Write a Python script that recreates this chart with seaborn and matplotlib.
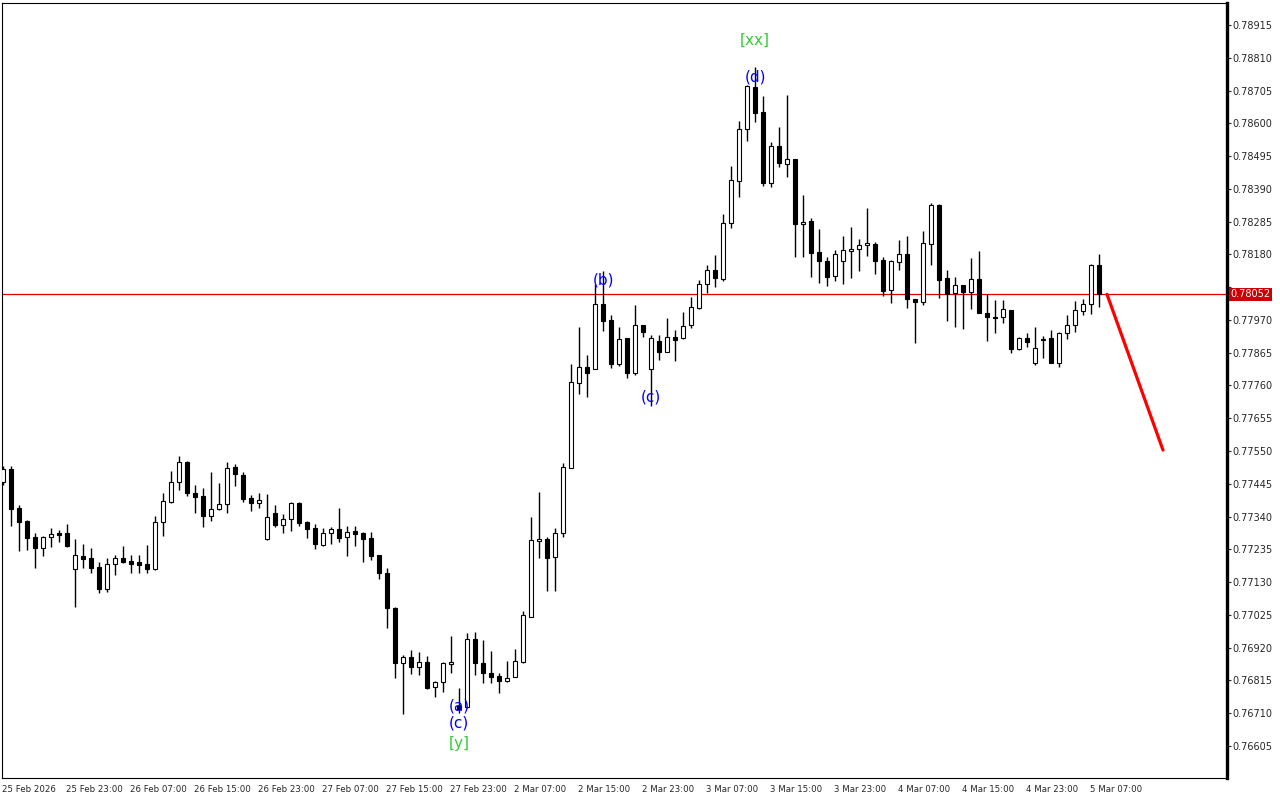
import numpy as np
import seaborn as sns
import matplotlib.pyplot as plt
from matplotlib.transforms import blended_transform_factory

# H1 candles, 25 Feb 15:00 -> 5 Mar 08:00 (138 bars)
opens = [
    0.77451, 0.77492, 0.77367, 0.77326, 0.77275, 0.77239, 0.77275, 0.77287, 0.77287, 0.77172,
    0.77214, 0.77207, 0.77178, 0.77108, 0.77188, 0.77207, 0.77198, 0.77194, 0.77188, 0.77172,
    0.77323, 0.77387, 0.77451, 0.77515, 0.77416, 0.77406, 0.77342, 0.77364, 0.77380, 0.77498,
    0.77473, 0.77400, 0.77383, 0.77268, 0.77351, 0.77313, 0.77332, 0.77383, 0.77323, 0.77303,
    0.77249, 0.77287, 0.77300, 0.77275, 0.77294, 0.77287, 0.77271, 0.77217, 0.77159, 0.77047,
    0.76871, 0.76890, 0.76858, 0.76874, 0.76794, 0.76810, 0.76868, 0.76733, 0.76730, 0.76948,
    0.76871, 0.76839, 0.76829, 0.76813, 0.76826, 0.76874, 0.77018, 0.77262, 0.77268, 0.77211,
    0.77287, 0.77495, 0.77768, 0.77819, 0.77813, 0.78021, 0.77970, 0.77829, 0.77912, 0.77800,
    0.77954, 0.77813, 0.77903, 0.77867, 0.77915, 0.77912, 0.77954, 0.78008, 0.78085, 0.78130,
    0.78101, 0.78281, 0.78415, 0.78582, 0.78716, 0.78636, 0.78409, 0.78527, 0.78470, 0.78486,
    0.78277, 0.78287, 0.78188, 0.78159, 0.78111, 0.78159, 0.78191, 0.78197, 0.78210, 0.78213,
    0.78162, 0.78066, 0.78156, 0.78181, 0.78037, 0.78028, 0.78213, 0.78338, 0.78104, 0.78056,
    0.78082, 0.78060, 0.78101, 0.77992, 0.77979, 0.77979, 0.78002, 0.77877, 0.77912, 0.77832,
    0.77906, 0.77912, 0.77832, 0.77928, 0.77954, 0.77999, 0.78021, 0.78146,
]
highs = [
    0.77502, 0.77502, 0.77377, 0.77329, 0.77287, 0.77278, 0.77303, 0.77297, 0.77316, 0.77268,
    0.77252, 0.77239, 0.77194, 0.77207, 0.77217, 0.77246, 0.77217, 0.77217, 0.77249, 0.77342,
    0.77416, 0.77486, 0.77534, 0.77518, 0.77441, 0.77432, 0.77483, 0.77448, 0.77515, 0.77508,
    0.77483, 0.77409, 0.77416, 0.77412, 0.77377, 0.77348, 0.77387, 0.77387, 0.77326, 0.77316,
    0.77303, 0.77307, 0.77367, 0.77310, 0.77310, 0.77291, 0.77291, 0.77217, 0.77175, 0.77050,
    0.76896, 0.76912, 0.76906, 0.76893, 0.76813, 0.76874, 0.76957, 0.76791, 0.76967, 0.76970,
    0.76945, 0.76909, 0.76839, 0.76877, 0.76916, 0.77037, 0.77339, 0.77419, 0.77275, 0.77303,
    0.77512, 0.77829, 0.77947, 0.77858, 0.78085, 0.78127, 0.77986, 0.77947, 0.77912, 0.78018,
    0.77954, 0.77922, 0.77922, 0.77976, 0.77938, 0.77995, 0.78044, 0.78098, 0.78146, 0.78178,
    0.78309, 0.78463, 0.78607, 0.78723, 0.78780, 0.78688, 0.78540, 0.78588, 0.78691, 0.78486,
    0.78370, 0.78297, 0.78261, 0.78172, 0.78194, 0.78239, 0.78268, 0.78229, 0.78329, 0.78220,
    0.78172, 0.78162, 0.78226, 0.78239, 0.78037, 0.78255, 0.78345, 0.78342, 0.78130, 0.78108,
    0.78082, 0.78168, 0.78191, 0.78052, 0.78034, 0.78034, 0.78002, 0.77915, 0.77928, 0.77947,
    0.77919, 0.77938, 0.77931, 0.77986, 0.78031, 0.78037, 0.78149, 0.78181,
]
lows = [
    0.77441, 0.77310, 0.77230, 0.77233, 0.77175, 0.77214, 0.77243, 0.77259, 0.77243, 0.77050,
    0.77175, 0.77159, 0.77095, 0.77098, 0.77153, 0.77191, 0.77159, 0.77159, 0.77159, 0.77169,
    0.77278, 0.77383, 0.77425, 0.77406, 0.77351, 0.77307, 0.77326, 0.77361, 0.77351, 0.77438,
    0.77387, 0.77358, 0.77367, 0.77265, 0.77307, 0.77287, 0.77294, 0.77310, 0.77271, 0.77236,
    0.77246, 0.77252, 0.77259, 0.77214, 0.77246, 0.77194, 0.77201, 0.77140, 0.76983, 0.76823,
    0.76707, 0.76836, 0.76832, 0.76787, 0.76762, 0.76778, 0.76839, 0.76711, 0.76727, 0.76832,
    0.76807, 0.76807, 0.76775, 0.76810, 0.76826, 0.76871, 0.77018, 0.77207, 0.77102, 0.77102,
    0.77275, 0.77495, 0.77733, 0.77723, 0.77813, 0.77935, 0.77816, 0.77822, 0.77784, 0.77794,
    0.77915, 0.77694, 0.77842, 0.77867, 0.77838, 0.77909, 0.77944, 0.78005, 0.78056, 0.78076,
    0.78095, 0.78265, 0.78364, 0.78543, 0.78604, 0.78399, 0.78396, 0.78460, 0.78428, 0.78172,
    0.78172, 0.78108, 0.78088, 0.78079, 0.78095, 0.78085, 0.78104, 0.78127, 0.78175, 0.78117,
    0.78047, 0.78024, 0.78130, 0.78008, 0.77896, 0.78018, 0.78146, 0.78040, 0.77967, 0.77947,
    0.77941, 0.78005, 0.77992, 0.77903, 0.77928, 0.77960, 0.77864, 0.77874, 0.77883, 0.77826,
    0.77848, 0.77832, 0.77819, 0.77909, 0.77931, 0.77986, 0.77989, 0.78011,
]
closes = [
    0.77492, 0.77364, 0.77323, 0.77271, 0.77239, 0.77275, 0.77284, 0.77281, 0.77246, 0.77217,
    0.77204, 0.77175, 0.77108, 0.77188, 0.77207, 0.77194, 0.77188, 0.77185, 0.77172, 0.77323,
    0.77390, 0.77451, 0.77515, 0.77416, 0.77403, 0.77342, 0.77364, 0.77380, 0.77495, 0.77476,
    0.77396, 0.77383, 0.77393, 0.77339, 0.77313, 0.77332, 0.77383, 0.77319, 0.77300, 0.77252,
    0.77287, 0.77300, 0.77271, 0.77291, 0.77284, 0.77268, 0.77214, 0.77159, 0.77047, 0.76871,
    0.76890, 0.76858, 0.76874, 0.76791, 0.76810, 0.76871, 0.76874, 0.76723, 0.76948, 0.76871,
    0.76839, 0.76826, 0.76813, 0.76823, 0.76877, 0.77025, 0.77265, 0.77268, 0.77207, 0.77287,
    0.77498, 0.77771, 0.77819, 0.77800, 0.78021, 0.77967, 0.77829, 0.77909, 0.77800, 0.77954,
    0.77931, 0.77912, 0.77867, 0.77915, 0.77906, 0.77951, 0.78011, 0.78085, 0.78130, 0.78104,
    0.78281, 0.78418, 0.78582, 0.78720, 0.78633, 0.78409, 0.78527, 0.78473, 0.78486, 0.78277,
    0.78284, 0.78185, 0.78159, 0.78108, 0.78181, 0.78194, 0.78197, 0.78210, 0.78217, 0.78159,
    0.78063, 0.78159, 0.78181, 0.78037, 0.78028, 0.78217, 0.78338, 0.78098, 0.78052, 0.78082,
    0.78060, 0.78101, 0.77992, 0.77979, 0.77976, 0.78005, 0.77877, 0.77912, 0.77899, 0.77880,
    0.77909, 0.77832, 0.77928, 0.77954, 0.78002, 0.78021, 0.78146, 0.78052,
]

current_price = 0.78052

# time axis labels, one every 8 bars
time_labels = ["25 Feb 2026", "25 Feb 23:00", "26 Feb 07:00", "26 Feb 15:00", "26 Feb 23:00",
               "27 Feb 07:00", "27 Feb 15:00", "27 Feb 23:00", "2 Mar 07:00", "2 Mar 15:00",
               "2 Mar 23:00", "3 Mar 07:00", "3 Mar 15:00", "3 Mar 23:00", "4 Mar 07:00",
               "4 Mar 15:00", "4 Mar 23:00", "5 Mar 07:00"]
price_ticks = [0.76605, 0.76710, 0.76815, 0.76920, 0.77025, 0.77130, 0.77235, 0.77340,
               0.77445, 0.77550, 0.77655, 0.77760, 0.77865, 0.77970, 0.78075, 0.78180,
               0.78285, 0.78390, 0.78495, 0.78600, 0.78705, 0.78810, 0.78915]

# wave labels (bar index, price)
wave_text = ["[xx]", "(d)", "(b)", "(c)", "(a)", "(c)", "[y]"]
wave_bar = [94, 94, 75, 81, 57, 57, 57]
wave_price = [0.78867, 0.78748, 0.78098, 0.77723, 0.76733, 0.76679, 0.76614]
wave_color = ["#32cd32", "#0000ff", "#0000ff", "#0000ff", "#0000ff", "#0000ff", "#32cd32"]

# forecast arrow
forecast_bar = [138, 145]
forecast_price = [0.78052, 0.77553]

sns.set_style("white")
plt.rcParams["font.family"] = ["DejaVu Sans"]

fig = plt.figure(figsize=(12.8, 8), dpi=100)
ax = fig.add_axes([2 / 1280, 22 / 800, 1225 / 1280, 775 / 800])

x = np.arange(len(opens))
o = np.array(opens)
c = np.array(closes)
up = c > o

ax.vlines(x, lows, highs, color="black", linewidth=1, zorder=2)
ax.bar(x, np.abs(c - o), bottom=np.minimum(o, c), width=0.62,
       color=np.where(up, "white", "black"), edgecolor="black", linewidth=0.8, zorder=3)

ax.axhline(current_price, color="#e00000", linewidth=0.9, zorder=1)

sns.lineplot(x=forecast_bar, y=forecast_price, color="#ff0000", linewidth=2.3, ax=ax,
             legend=False, zorder=4)

for t, bx, py, col in zip(wave_text, wave_bar, wave_price, wave_color):
    ax.text(bx, py, t, color=col, fontsize=11, ha="center", va="center", zorder=5)

ax.set_xlim(-0.125, 153)
ax.set_ylim(0.765024, 0.789855)

ax.set_xticks([i * 8 - 0.125 for i in range(len(time_labels))])
ax.set_xticklabels(time_labels, ha="left", fontsize=6.2)
ax.set_yticks(price_ticks)
ax.set_yticklabels([f"{p:.5f}" for p in price_ticks])
ax.yaxis.tick_right()
ax.tick_params(axis="x", direction="out", length=4, pad=1, width=0.8)
ax.tick_params(axis="y", direction="out", length=3, pad=1, labelsize=7, width=0.8)

# the price tag sits over the nearest tick label, as in the terminal
for lab, p in zip(ax.get_yticklabels(), price_ticks):
    if abs(p - current_price) < 0.0004:
        lab.set_visible(False)

for side in ["top", "left", "bottom"]:
    ax.spines[side].set_linewidth(0.8)
    ax.spines[side].set_color("black")
ax.spines["right"].set_linewidth(2.4)
ax.spines["right"].set_color("black")

trans = blended_transform_factory(ax.transAxes, ax.transData)
ax.text(1.003, current_price, f"{current_price:.5f}", transform=trans, color="white",
        fontsize=7, ha="left", va="center", zorder=10, clip_on=False,
        bbox=dict(boxstyle="square,pad=0.15", fc="#cc0000", ec="none"))

fig.savefig("out.png", dpi=100)
